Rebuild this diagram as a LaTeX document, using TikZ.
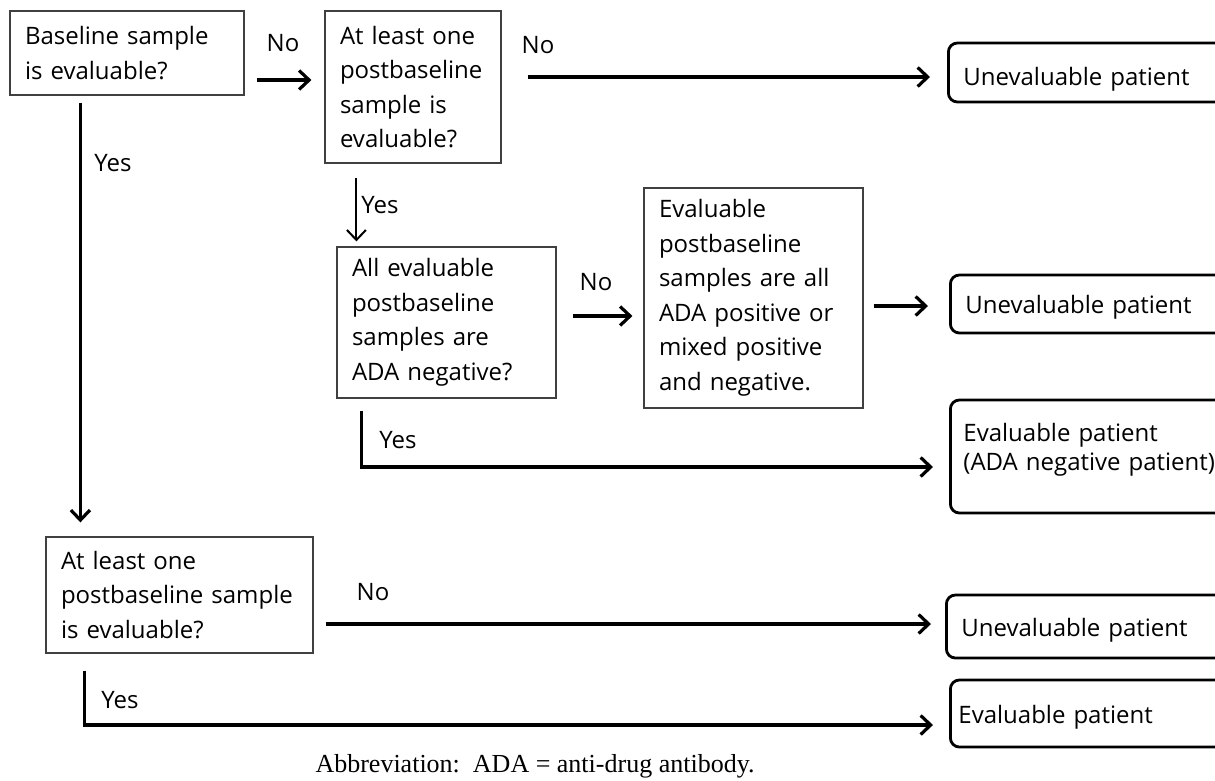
\documentclass[tikz,border=0pt]{standalone}
\usepackage{fontspec}
\setmainfont{Open Sans}
\newfontfamily\capfont{Liberation Serif}
\usetikzlibrary{arrows.meta}

\begin{document}
\begin{tikzpicture}[x=1pt, y=-1pt, every node/.style={font=\fontsize{24}{34.5}\selectfont},
  qbox/.style={draw=black!75, line width=1.2pt, rectangle, align=left, inner xsep=15pt, inner ysep=0pt},
  endbox/.style={draw, line width=2.8pt, rounded corners=9pt, align=left, anchor=west, inner xsep=15pt, text width=290pt},
  flow/.style={line width=3.2pt, -{Straight Barb[length=10pt,width=19pt]}}]
  \useasboundingbox (0,0) rectangle (1215,780);

  \node[qbox, text width=204pt, minimum height=84pt] (base) at (127,53) {Baseline sample\\is evaluable?};
  \node[qbox, text width=146pt, minimum height=152pt] (post1) at (413,87) {At least one\\postbaseline\\sample is\\evaluable?};
  \node[qbox, text width=189pt, minimum height=151pt] (allneg) at (446.5,322.5) {All evaluable\\postbaseline\\samples are\\ADA negative?};
  \node[qbox, text width=189pt, minimum height=220pt] (mixed) at (753.5,298) {Evaluable\\postbaseline\\samples are all\\ADA positive or\\mixed positive\\and negative.};
  \node[qbox, text width=237pt, minimum height=116pt] (post2) at (179.5,595) {At least one\\postbaseline sample\\is evaluable?};

  \node[endbox, minimum height=59pt, text height=29pt, text depth=4pt] (out1) at (947,72.5) {Unevaluable patient};
  \node[endbox, minimum height=58pt, text height=22pt, text depth=4pt] (out2) at (949,304) {Unevaluable patient};
  \node[endbox, minimum height=113pt, inner xsep=13pt, font=\fontsize{24}{29}\selectfont] (out3) at (949,456.5) {Evaluable patient\\(ADA negative patient)\\[-10pt]\mbox{}};
  \node[endbox, minimum height=63pt, text height=23pt, text depth=4pt] (out4) at (945,626.5) {Unevaluable patient};
  \node[endbox, minimum height=67pt, inner xsep=8pt, text height=23pt, text depth=4pt] (out5) at (949,713.5) {Evaluable patient};

  \node (no1) at (283,43) {No};
  \node (no2) at (538,45) {No};
  \node (no3) at (596,282) {No};
  \node (no4) at (373,592) {No};
  \node (yes1) at (113,163) {Yes};
  \node (yes2) at (380,205) {Yes};
  \node (yes3) at (398,440) {Yes};
  \node (yes4) at (120,700) {Yes};
  \node[anchor=base west, font=\capfont\fontsize{26}{30}\selectfont] (abbr) at (312,772) {Abbreviation:\ \ ADA = anti-drug antibody.};

  \draw[flow, shorten <=12pt, shorten >=13pt] ([yshift=-27pt]base.east) -- ([yshift=-27pt]base.east -| post1.west);
  \draw[flow, shorten <=26pt, shorten >=17pt] ([yshift=10pt]post1.east) -- ([yshift=10pt]post1.east -| out1.west);
  \draw[flow, line width=2pt, shorten <=14pt, shorten >=5pt] ([xshift=32pt]post1.south west) -- ([xshift=32pt]post1.south west |- allneg.north);
  \draw[flow, shorten <=16pt, shorten >=11pt] ([yshift=6.5pt]allneg.east) -- ([yshift=6.5pt]allneg.east -| mixed.west);
  \draw[flow, shorten <=10pt, shorten >=21pt] ([yshift=-8pt]mixed.east) -- ([yshift=-8pt]mixed.east -| out2.west);
  \draw[flow, shorten <=12pt, shorten >=16pt] ([xshift=25pt]allneg.south west) |- ([yshift=-10.5pt]out3.west);
  \draw[flow, shorten <=7pt, shorten >=14pt] ([xshift=71pt]base.south west) -- ([xshift=71pt]base.south west |- post2.north);
  \draw[flow, shorten <=12pt, shorten >=14pt] ([yshift=-29pt]post2.east) -- ([yshift=-29pt]post2.east -| out4.west);
  \draw[flow, shorten <=17pt, shorten >=16pt] ([xshift=39pt]post2.south west) |- ([yshift=-11.5pt]out5.west);
\end{tikzpicture}
\end{document}
